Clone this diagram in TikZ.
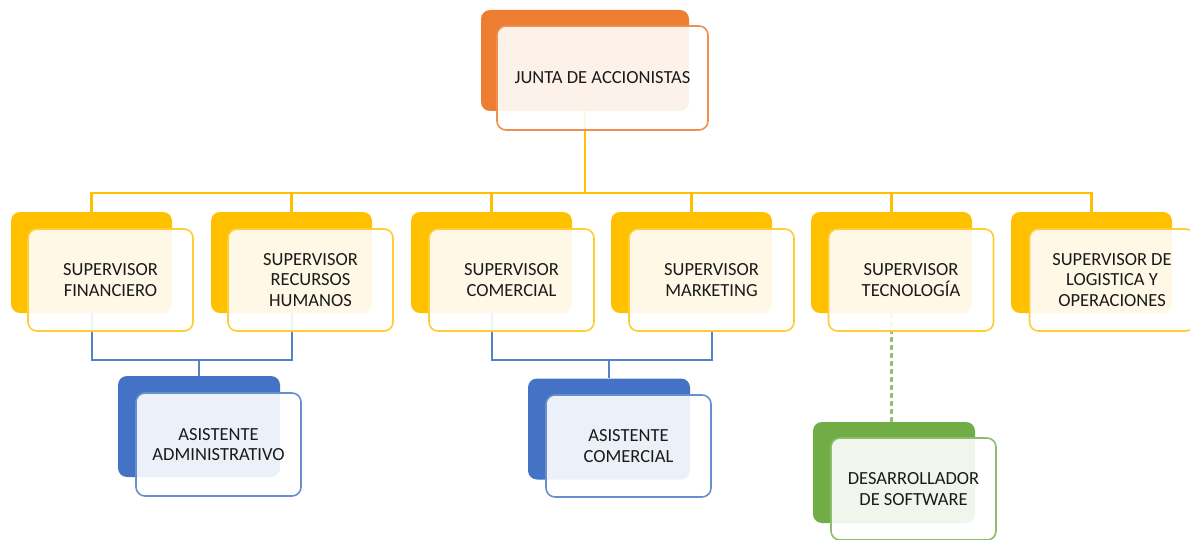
\documentclass[tikz,border=0pt]{standalone}
\usepackage{fontspec}
\setmainfont{Carlito}
\usetikzlibrary{backgrounds}
\definecolor{accorange}{HTML}{ED7D31}
\definecolor{accyellow}{HTML}{FFC000}
\definecolor{accblue}{HTML}{4472C4}
\definecolor{accgreen}{HTML}{70AD47}
\definecolor{textgray}{HTML}{1A1A1A}

\begin{document}
\begin{tikzpicture}[x=1pt,y=-1pt,
  backbox/.style={rounded corners=9pt,minimum width=161pt,minimum height=101pt,inner sep=0pt},
  frontbox/.style={rounded corners=9pt,minimum width=165pt,minimum height=102pt,inner sep=0pt,
    line width=1.6pt,fill=white,fill opacity=0.9,text opacity=1,text=textgray,align=center,
    font=\fontsize{18.5}{20.5}\selectfont},
  yline/.style={accyellow,line width=2.4pt},
  bline/.style={accblue!90!white,line width=2pt},
  gline/.style={accgreen!75!white,line width=2.4pt,dash pattern=on 5pt off 3pt}]
\useasboundingbox (0,0) rectangle (1190,540);
% junta
\node[backbox,fill=accorange,minimum width=208pt] (junta-b) at (585,60.5) {};
\node[frontbox,draw=accorange!85!white,minimum width=211pt,minimum height=104pt] (junta-f) at (602.5,78) {JUNTA DE ACCIONISTAS};
% supervisores
\node[backbox,fill=accyellow] (fin-b) at (91.5,262.5) {};
\node[frontbox,draw=accyellow!80!white] (fin-f) at (110.5,280) {SUPERVISOR\\FINANCIERO};
\node[backbox,fill=accyellow] (rh-b) at (291.5,262.5) {};
\node[frontbox,draw=accyellow!80!white] (rh-f) at (310.5,280) {SUPERVISOR\\RECURSOS\\HUMANOS};
\node[backbox,fill=accyellow] (com-b) at (491.5,262.5) {};
\node[frontbox,draw=accyellow!80!white] (com-f) at (511.5,280) {SUPERVISOR\\COMERCIAL};
\node[backbox,fill=accyellow] (mkt-b) at (691.5,262.5) {};
\node[frontbox,draw=accyellow!80!white] (mkt-f) at (711.5,280) {SUPERVISOR\\MARKETING};
\node[backbox,fill=accyellow] (tec-b) at (891.5,262.5) {};
\node[frontbox,draw=accyellow!80!white] (tec-f) at (911,280) {SUPERVISOR\\TECNOLOGÍA};
\node[backbox,fill=accyellow] (log-b) at (1091.5,262.5) {};
\node[frontbox,draw=accyellow!80!white] (log-f) at (1112,280) {SUPERVISOR DE\\LOGISTICA Y\\OPERACIONES};
% asistentes
\node[backbox,fill=accblue,minimum width=162pt] (adm-b) at (199,426.5) {};
\node[frontbox,draw=accblue!80!white,minimum height=103pt] (adm-f) at (218.5,444.5) {ASISTENTE\\ADMINISTRATIVO};
\node[backbox,fill=accblue,minimum width=162pt] (acom-b) at (609,429) {};
\node[frontbox,draw=accblue!80!white] (acom-f) at (628.5,446) {ASISTENTE\\COMERCIAL};
% desarrollador
\node[backbox,fill=accgreen,minimum width=162pt] (dev-b) at (894,472.5) {};
\node[frontbox,draw=accgreen!80!white] (dev-f) at (913.5,489) {DESARROLLADOR\\DE SOFTWARE};

\begin{pgfonlayer}{background}
% yellow lines
\coordinate (bus) at (585,193);
\draw[yline] (junta-b.south) -- (bus);
\draw[yline] (fin-b.north) |- (bus);
\draw[yline] (rh-b.north) |- (bus);
\draw[yline] (com-b.north) |- (bus);
\draw[yline] (mkt-b.north) |- (bus);
\draw[yline] (tec-b.north) |- (bus);
\draw[yline] (log-b.north) |- (bus);
% blue lines
\coordinate (adm-bus) at (199,360);
\draw[bline] (fin-b.south) |- (adm-bus);
\draw[bline] (rh-b.south) |- (adm-bus);
\draw[bline] (adm-bus) -- (adm-b.north);
\coordinate (acom-bus) at (609,360);
\draw[bline] (com-b.south) |- (acom-bus);
\draw[bline] (mkt-f.south) |- (acom-bus);
\draw[bline] (acom-bus) -- (acom-b.north);
% green dashed
\draw[gline] (tec-b.south) -- (tec-b.south |- dev-b.north);
\end{pgfonlayer}
\end{tikzpicture}
\end{document}
